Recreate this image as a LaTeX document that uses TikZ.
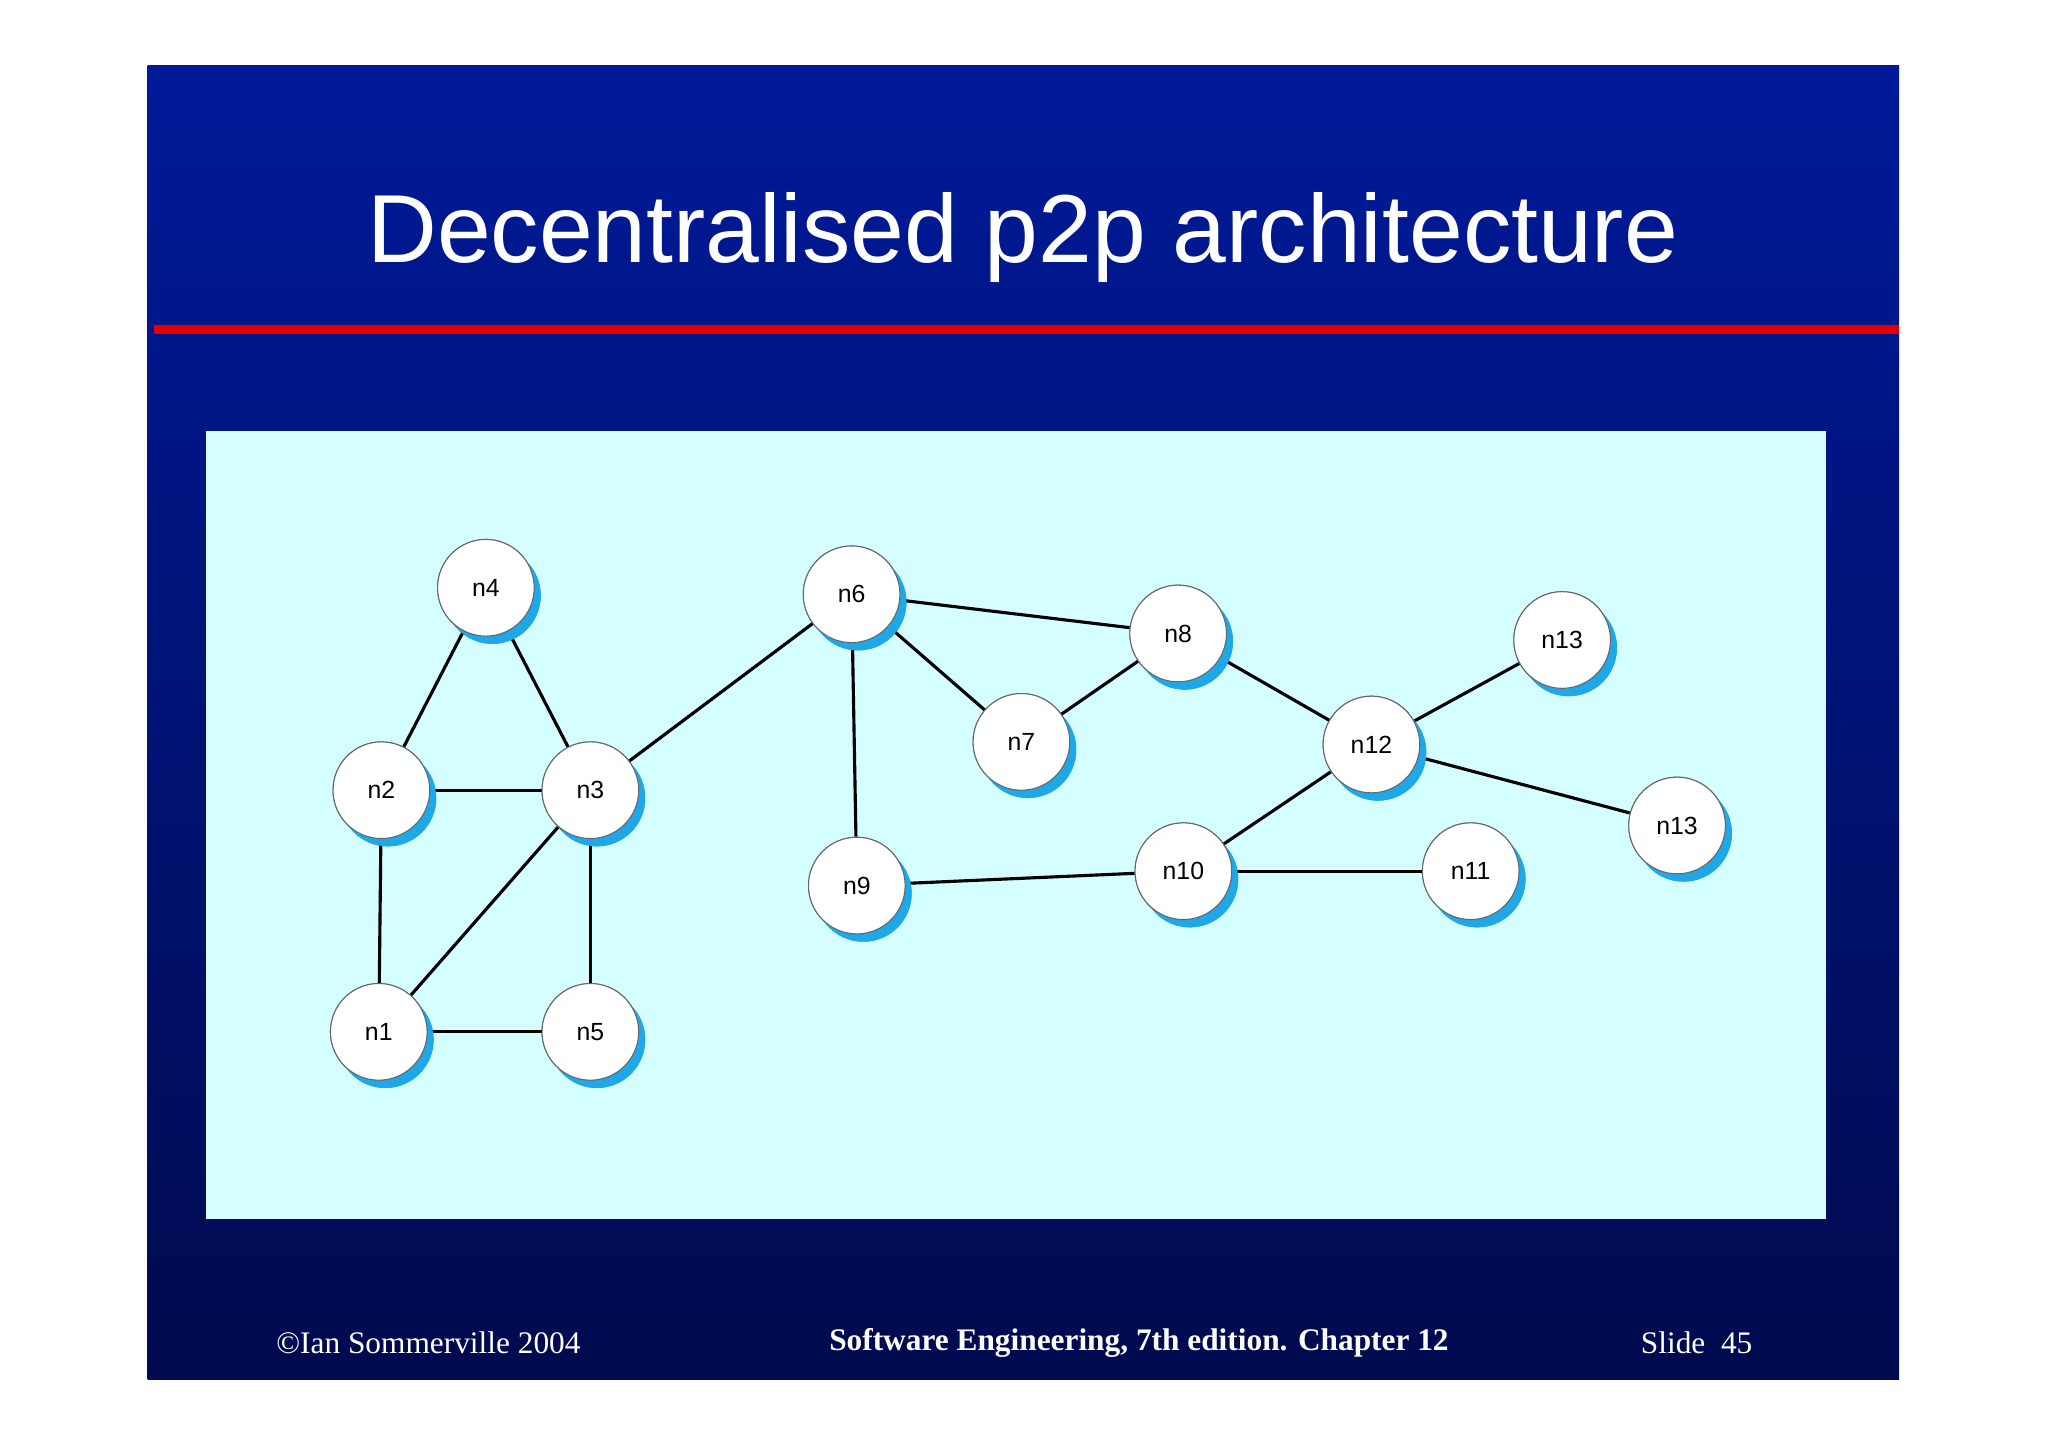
\documentclass[tikz,border=0pt]{standalone}
\usepackage{fontspec}
\setmainfont{Liberation Serif}
\newfontfamily\sans{Liberation Sans}
\begin{document}
\begin{tikzpicture}[x=1pt,y=-1pt,
  peer/.style={circle,draw=black!60,line width=0.8pt,fill=white,minimum size=74pt,inner sep=0pt,font=\sans\fontsize{19}{19}\selectfont,
    preaction={draw=none,fill=shadowc,transform canvas={shift={(5pt,-6pt)}}}},
  link/.style={line width=2.4pt,black}]
\definecolor{topblue}{HTML}{001A99}
\definecolor{botblue}{HTML}{000A4E}
\definecolor{panelc}{HTML}{D4FEFF}
\definecolor{shadowc}{HTML}{1EA8E8}
\useasboundingbox (0,0) rectangle (1568,1108);
\fill[white] (0,0) rectangle (1568,1108);
\shade[top color=topblue,bottom color=botblue] (113,50) rectangle (1454,1056);
\fill[red!90!black] (118,249) rectangle (1454,256);
\node[text=white,font=\sans\fontsize{74}{74}\selectfont] (title) at (783,182) {Decentralised p2p architecture};
\fill[panelc] (158,330) rectangle (1398,933);
\foreach \n/\x/\y/\t in {n4/372/450/n4,n2/292/605/n2,n3/452/605/n3,n1/290/790/n1,n5/452/790/n5,n6/652/455/n6,n7/782/568/n7,n8/902/485/n8,n9/656/678/n9,n10/906/667/n10,n11/1126/667/n11,n12/1050/570/n12,n13a/1196/490/n13,n13b/1284/632/n13}
  \node[peer] (\n) at (\x,\y) {\t};
\foreach \a/\b in {n4/n2,n4/n3,n2/n3,n2/n1,n1/n3,n3/n5,n1/n5,n3/n6,n6/n9,n6/n7,n6/n8,n7/n8,n8/n12,n12/n13a,n12/n13b,n12/n10,n9/n10,n10/n11}
  \draw[link] (\a) -- (\b);
\foreach \n/\x/\y/\t in {n4/372/450/n4,n2/292/605/n2,n3/452/605/n3,n1/290/790/n1,n5/452/790/n5,n6/652/455/n6,n7/782/568/n7,n8/902/485/n8,n9/656/678/n9,n10/906/667/n10,n11/1126/667/n11,n12/1050/570/n12,n13a/1196/490/n13,n13b/1284/632/n13}
  \node[peer] at (\x,\y) {\t};
\node[text=white,font=\fontsize{24}{24}\selectfont] (f1) at (328,1028) {©Ian Sommerville 2004};
\node[text=white,font=\bfseries\fontsize{24}{24}\selectfont] (f2) at (872,1028) {Software Engineering, 7th edition. Chapter 12};
\node[text=white,font=\fontsize{24}{24}\selectfont] (f3) at (1299,1028) {Slide~~45};
\end{tikzpicture}
\end{document}
